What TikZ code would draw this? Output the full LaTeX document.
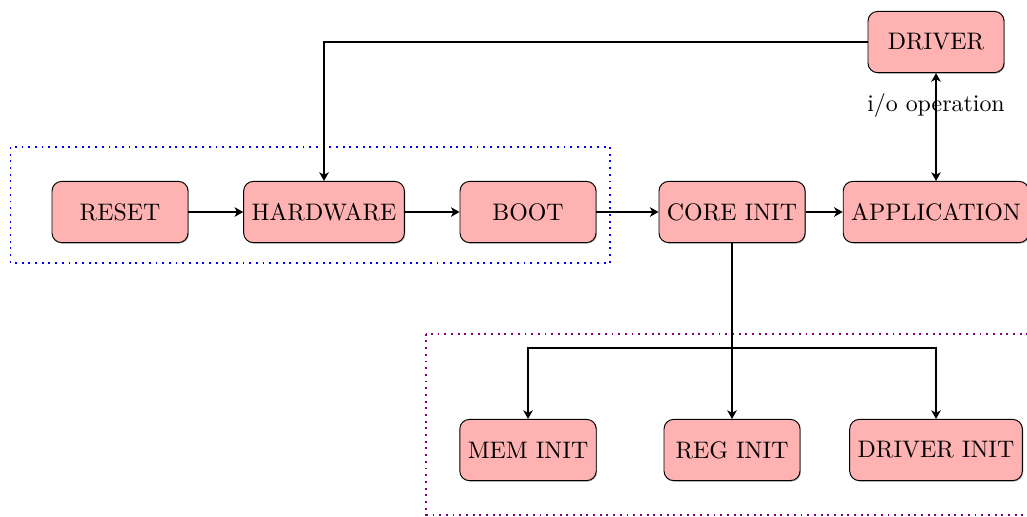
\documentclass[tikz,border=0pt]{standalone}
\usepackage{tikz}
\usetikzlibrary{positioning,shapes,arrows, arrows.meta, backgrounds, fit, shadows}
\tikzstyle{blk}=[%
      rectangle, rounded corners, draw=black, fill=red!30,
      drop shadow={shadow xshift=0.4pt, shadow yshift=-0.4pt, opacity=0.6},
      text centered, minimum height=0.9cm, minimum width=2cm
]
\tikzstyle{grp}=[%
      dotted, thick
]
\begin{document}
\begin{tikzpicture}[auto,
    node distance=3cm, on grid,
    >={Stealth[length=3.6pt,width=4pt,inset=1pt]}
  ]
    \useasboundingbox (-1.765,3.118) rectangle (13.338,-4.471);

    \node[blk]   (reset)                          {RESET};
    \node[blk]   (hw)     [right = of reset]      {HARDWARE};
    \node[blk]   (boot)   [right = of hw]         {BOOT};
    \node[blk]   (core)   [right = of boot]       {CORE INIT};
    \node[blk]   (app)    [right = of core]       {APPLICATION};
    \node[blk]   (drv)    [above = 2.5cm of app]  {DRIVER};
    \node[blk]   (mem)    [below = 3.5cm of boot] {MEM INIT};
    \node[blk]   (reg)    [below = 3.5cm of core] {REG INIT};
    \node[blk]   (drvi)   [below = 3.5cm of app]  {DRIVER INIT};
    \coordinate[below = 2cm of core] (split);

    % groups
    \draw[grp, blue] (-1.61,0.956) rectangle (7.21,-0.75);
    \draw[grp, violet] (4.5,-1.79) rectangle (13.6,-4.45);

    \draw[->, thick] (reset) -- (hw);
    \draw[->, thick] (hw) -- (boot);
    \draw[->, thick] (boot) -- (core);
    \draw[->, thick] (core) -- (app);
    \draw[<->, thick] (drv) -- node[pos=0.3, swap, anchor=center] {i/o operation} (app);
    \draw[->, thick] (drv.west) -| (hw.north);

    \draw[->, thick] (core.south) -- (split) -| (mem.north);
    \draw[->, thick] (core.south) -- (reg.north);
    \draw[->, thick] (core.south) -- (split) -| (drvi.north);
\end{tikzpicture}
\end{document}
